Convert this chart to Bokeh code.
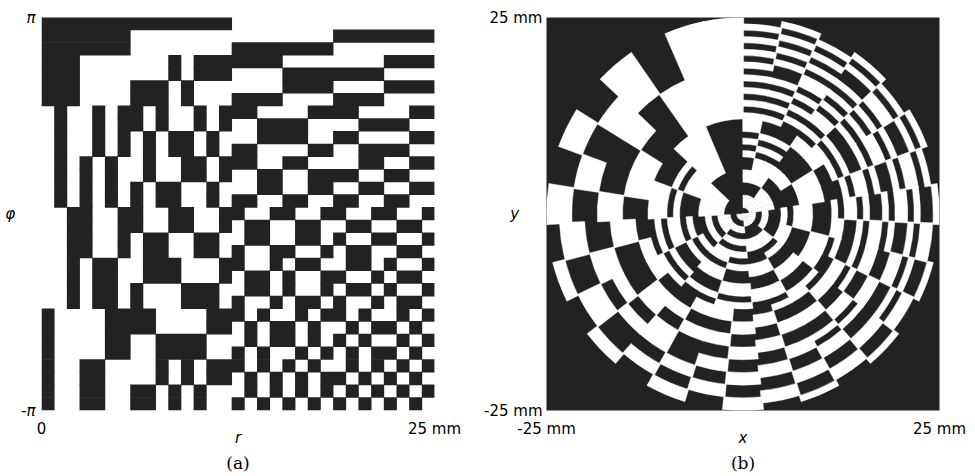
import numpy as np
from bokeh.plotting import figure
from bokeh.layouts import row
from bokeh.models import FixedTicker, ColumnDataSource, Title
from bokeh.embed import file_html
from bokeh.resources import INLINE

# ---------------- data ----------------
R_MAX_MM = 25.0          # outer radius
N_R = 31                 # radial cells
N_PHI = 31               # angular cells
# one string per angular row, from phi = +pi (top) down to phi = -pi (bottom);
# characters run along r from 0 to 25 mm; '1' = dark cell, '0' = light cell
PATTERN = [
    "11111111111111" + "10000000000000000",
    "11111110000000" + "00000000011111111",
    "11111110000000" + "01111111100000000",
    "11100000001011" + "11111000000001111",
    "11100000001011" + "10000111111110000",
    "11100001110100" + "00000111100001111",
    "11100001110100" + "01111000011110000",
    "01001011010010" + "11100001111000011",
    "01001011010010" + "10011110000111100",
    "01001010101101" + "00011110011000011",
    "01001010101101" + "01100001100111100",
    "01010100100110" + "11100110000110011",
    "01010100100110" + "10011001111001100",
    "01010101011001" + "00011001100110011",
    "01010101011001" + "01100110011001100",
    "00110011001100" + "11001100110011001",
    "00110011001100" + "10110011001100110",
    "00110010110011" + "00110011010011001",
    "00110010110011" + "01001100101100110",
    "00101100111000" + "11001011001101001",
    "00101100111000" + "10110100110010110",
    "00101101000111" + "00110100101101001",
    "00101101000111" + "01001011010010110",
    "10000111100001" + "11010010110100101",
    "10000111100001" + "10101101001011010",
    "10000110011110" + "00101101010100101",
    "10000110011110" + "01010010101011010",
    "10011000010101" + "11010101001010101",
    "10011000010101" + "10101010110101010",
    "10011001101010" + "00101010101010101",
    "10011001101010" + "01010101010101010",
]
# panel (b): angular sectors counted anticlockwise from the top (+y) direction,
# each entry = the row of PATTERN that the sector shows
SECTOR_ROWS = [0, 0, 1, 2, 3, 4, 5, 6, 7, 8, 9, 10, 11, 12, 13, 14, 15,
               16, 17, 18, 19, 20, 21, 22, 23, 24, 25, 26, 27, 28, 29]
r_ticks = [0, 25]
r_tick_labels = ["0", "25 mm"]
phi_ticks = [-np.pi, np.pi]
phi_tick_labels = ["-π", "π"]
xy_ticks = [-25, 25]
xy_tick_labels = ["-25 mm", "25 mm"]

DARK = "#222222"
LIGHT = "#ffffff"

dr = R_MAX_MM / N_R
dphi = 2 * np.pi / N_PHI


def runs(s, ch):
    out = []
    j = 0
    while j < len(s):
        if s[j] == ch:
            k = j
            while k + 1 < len(s) and s[k + 1] == ch:
                k += 1
            out.append((j, k))
            j = k + 1
        else:
            j += 1
    return out


# (a) r-phi grid: dark cells (slight overlap to avoid hairline seams)
ov_phi = 0.05 * dphi
ov_r = 0.03 * dr
qa = dict(left=[], right=[], bottom=[], top=[])
for i, s in enumerate(PATTERN):
    for j0, j1 in runs(s, "1"):
        qa["left"].append(j0 * dr)
        qa["right"].append((j1 + 1) * dr + ov_r)
        qa["top"].append(np.pi - i * dphi + ov_phi)
        qa["bottom"].append(np.pi - (i + 1) * dphi)

# (b) x-y plane: light cells as annular wedges
wb = dict(ri=[], ro=[], sa=[], ea=[])
eps = 0.004
for m, i in enumerate(SECTOR_ROWS):
    th_a = np.pi / 2 + m * dphi
    th_b = np.pi / 2 + (m + 1) * dphi
    for j0, j1 in runs(PATTERN[i], "0"):
        wb["ri"].append(j0 * dr)
        wb["ro"].append((j1 + 1) * dr)
        wb["sa"].append(th_a - eps)
        wb["ea"].append(th_b + eps)


def style_axis(ax, ticks, labels, italic=False):
    ax.ticker = FixedTicker(ticks=list(ticks))
    ax.major_label_overrides = {t: l for t, l in zip(ticks, labels)}
    ax.axis_line_color = None
    ax.major_tick_line_color = None
    ax.minor_tick_line_color = None
    ax.major_tick_out = 0
    ax.major_tick_in = 0
    ax.minor_tick_out = 0
    ax.minor_tick_in = 0
    ax.major_label_text_font = "DejaVu Sans"
    ax.major_label_text_font_size = "15px"
    ax.major_label_text_color = "black"
    ax.major_label_text_font_style = "italic" if italic else "normal"
    ax.axis_label_text_font = "DejaVu Sans"
    ax.axis_label_text_font_size = "15px"
    ax.axis_label_text_font_style = "italic"
    ax.axis_label_text_color = "black"


def caption(text):
    return Title(text=text, align="center", text_font="DejaVu Serif",
                 text_font_size="17px", text_font_style="normal",
                 text_color="black", standoff=3)


common = dict(frame_width=393, frame_height=393, output_backend="svg",
              toolbar_location=None, min_border_top=17, min_border_bottom=66,
              border_fill_color="white")

pa = figure(x_range=(0, R_MAX_MM), y_range=(-np.pi, np.pi),
            min_border_left=41, min_border_right=36,
            background_fill_color=LIGHT, **common)
pa.quad(left="left", right="right", bottom="bottom", top="top",
        source=ColumnDataSource(qa), fill_color=DARK, line_color=None)
pa.grid.visible = False
pa.outline_line_color = None
style_axis(pa.xaxis[0], r_ticks, r_tick_labels)
style_axis(pa.yaxis[0], phi_ticks, phi_tick_labels, italic=True)
pa.xaxis[0].axis_label = "r"
pa.xaxis[0].major_label_standoff = 9
pa.xaxis[0].axis_label_standoff = -12
pa.yaxis[0].axis_label = "φ"
pa.yaxis[0].axis_label_orientation = "horizontal"
pa.yaxis[0].major_label_standoff = 6
pa.yaxis[0].axis_label_standoff = 3
pa.add_layout(caption("(a)"), "below")

pb = figure(x_range=(-R_MAX_MM, R_MAX_MM), y_range=(-R_MAX_MM, R_MAX_MM),
            min_border_left=76, min_border_right=36,
            background_fill_color=DARK, **common)
pb.annular_wedge(x=0, y=0, inner_radius="ri", outer_radius="ro",
                 start_angle="sa", end_angle="ea", source=ColumnDataSource(wb),
                 fill_color=LIGHT, line_color=LIGHT, line_width=0.4)
pb.grid.visible = False
pb.outline_line_color = None
style_axis(pb.xaxis[0], xy_ticks, xy_tick_labels)
style_axis(pb.yaxis[0], xy_ticks, xy_tick_labels)
pb.xaxis[0].axis_label = "x"
pb.xaxis[0].major_label_standoff = 9
pb.xaxis[0].axis_label_standoff = -12
pb.yaxis[0].axis_label = "y"
pb.yaxis[0].axis_label_orientation = "horizontal"
pb.yaxis[0].major_label_standoff = 4
pb.yaxis[0].axis_label_standoff = -38
pb.add_layout(caption("(b)"), "below")

layout = row(pa, pb)
open("out.html", "w").write(file_html(layout, INLINE))
